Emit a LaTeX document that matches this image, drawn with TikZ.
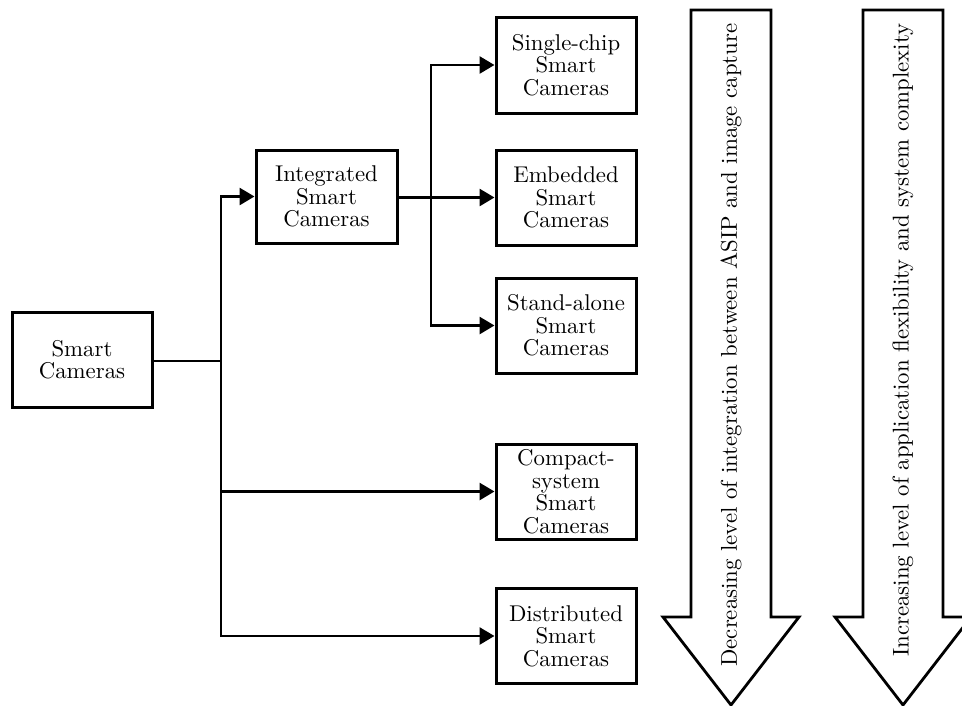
\documentclass[tikz,border=0pt]{standalone}
\usepackage{fontspec}
\setmainfont{lmroman10}[Extension=.otf,UprightFont=*-regular,BoldFont=*-bold,ItalicFont=*-italic]
\usetikzlibrary{arrows.meta}
\begin{document}
\begin{tikzpicture}[x=1pt,y=-1pt,
  every node/.style={font=\fontsize{22.8}{22.5}\selectfont},
  box/.style={draw,line width=3pt,align=center,inner sep=0pt,minimum width=140pt,minimum height=95pt},
  conn/.style={line width=2.8pt},
  arr/.style={conn,-{Triangle[length=15pt,width=17pt]}},
  blockarrow/.style={draw,line width=2.8pt,fill=white,line join=miter}]
\useasboundingbox (0,0) rectangle (962,705);
\clip (0,0) rectangle (962,705);
% block arrows
\draw[blockarrow] (691,10) -- (771,10) -- (771,617) -- (799,617) -- (731,705) -- (663,617) -- (691,617) -- cycle;
\draw[blockarrow] (863,10) -- (943,10) -- (943,617) -- (971,617) -- (903,705) -- (835,617) -- (863,617) -- cycle;
\node[rotate=90,anchor=east] (t1) at (731,20) {Decreasing level of integration between ASIP and image capture};
\node[rotate=90,anchor=east] (t2) at (903,20) {Increasing level of application flexibility and system complexity};
% boxes
\node[box] (sc) at (82,359.5) {Smart\\Cameras};
\node[box,minimum height=93pt,minimum width=141pt] (isc) at (326.5,196.5) {Integrated\\Smart\\Cameras};
\node[box,minimum height=96pt] (ssc) at (566,65) {Single-chip\\Smart\\Cameras};
\node[box] (esc) at (566,197.5) {Embedded\\Smart\\Cameras};
\node[box] (stsc) at (566,325.5) {Stand-alone\\Smart\\Cameras};
\node[box] (csc) at (566,491.5) {Compact-\\system\\Smart\\Cameras};
\node[box] (dsc) at (566,636) {Distributed\\Smart\\Cameras};
% connectors
\coordinate (j1) at (221,361);
\coordinate (j2) at (431,198);
\draw[conn] (sc.east |- j1) -- (j1);
\draw[arr] (j1) |- (isc.west);
\draw[arr] (j1) |- (csc.west);
\draw[arr] (j1) |- (dsc.west);
\draw[arr] (isc.east |- esc.west) -- (esc.west);
\draw[arr] (j2) |- (ssc.west);
\draw[arr] (j2) |- (stsc.west);
\end{tikzpicture}
\end{document}
